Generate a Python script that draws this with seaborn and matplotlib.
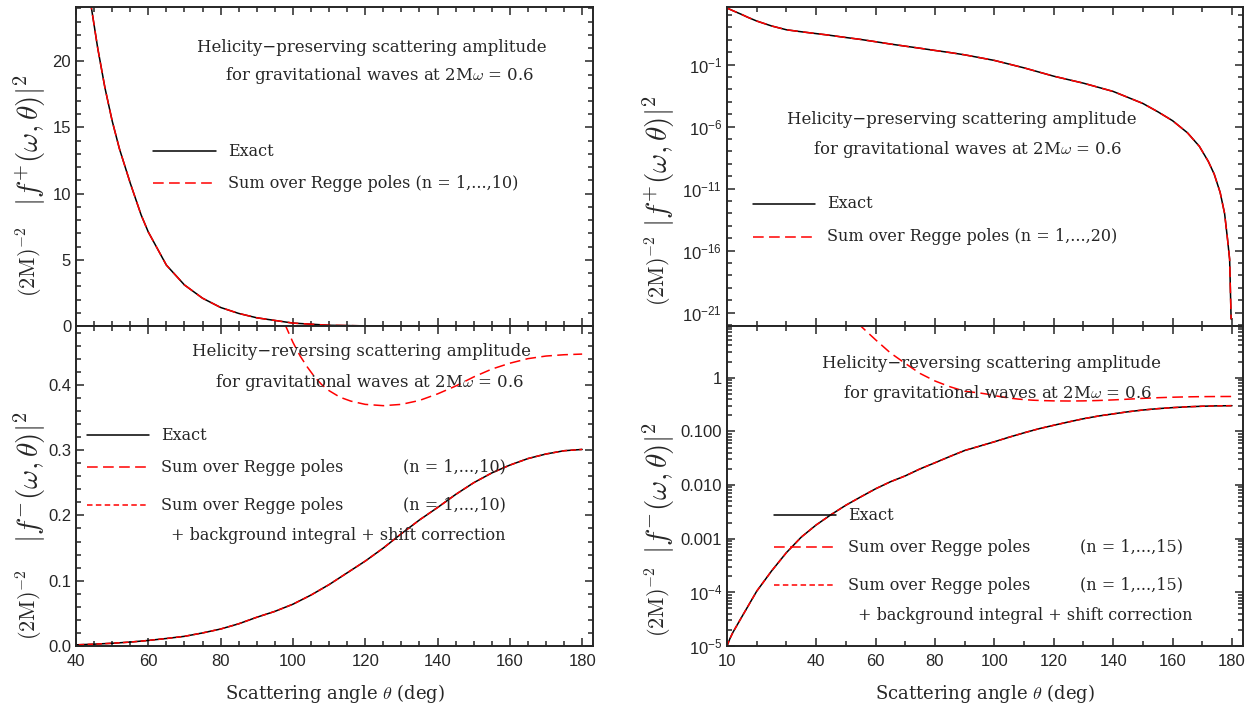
import matplotlib
matplotlib.use("Agg")
import matplotlib.pyplot as plt
import matplotlib.ticker as mticker
from matplotlib.lines import Line2D
import numpy as np
import pandas as pd
import seaborn as sns

# helicity-preserving |f+|^2 (exact and Regge sum coincide on the plot)
theta_plus = [10, 12, 15, 17, 20, 25, 30, 35, 40, 44, 46, 48, 50, 52, 55, 58, 60,
              65, 70, 75, 80, 85, 90, 100, 110, 120, 130, 140, 150, 155, 160,
              165, 169, 172, 174, 176, 177.5, 178.5, 179.2, 179.7]
f_plus = [3.7e3, 2.24e3, 1.1e3, 6.6e2, 3.3e2, 1.32e2, 65, 45, 32, 24.5, 21.0,
          18.0, 15.5, 13.4, 10.8, 8.4, 7.1, 4.6, 3.1, 2.1, 1.4, 0.95, 0.62, 0.22,
          0.055, 1.17e-2, 3.2e-3, 6.9e-4, 7.4e-5, 1.6e-5, 3.0e-6, 3.2e-7, 2.6e-8,
          1.6e-9, 1.5e-10, 5e-12, 1e-13, 8e-16, 2e-17, 3e-22]

# helicity-reversing |f-|^2, exact (Regge sum + background overlays it)
theta_minus = [10, 11, 12, 15, 20, 25, 30, 35, 40, 45, 50, 55, 60, 65, 70, 75,
               80, 85, 90, 95, 100, 105, 110, 115, 120, 125, 130, 135, 140, 145,
               150, 155, 160, 165, 170, 175, 180]
f_minus = [1.0e-5, 1.38e-5, 1.8e-5, 3.5e-5, 1.05e-4, 2.5e-4, 5.5e-4, 1.07e-3,
           1.8e-3, 2.8e-3, 4.2e-3, 6.0e-3, 8.5e-3, 0.0115, 0.0148, 0.020, 0.026,
           0.034, 0.044, 0.053, 0.064, 0.078, 0.094, 0.112, 0.130, 0.150, 0.172,
           0.193, 0.212, 0.232, 0.250, 0.265, 0.277, 0.287, 0.294, 0.299, 0.301]

# Regge-pole sum alone for |f-|^2
theta_regge = [50, 52, 55, 60, 65, 70, 75, 80, 85, 90, 95, 98, 100, 102, 104,
               106, 108, 110, 113, 116, 120, 125, 130, 135, 140, 145, 150, 155,
               160, 165, 170, 175, 180]
f_minus_regge = [16.6, 13.0, 9.2, 5.1, 2.9, 1.85, 1.2, 0.87, 0.68, 0.56, 0.52,
                 0.49, 0.465, 0.444, 0.427, 0.412, 0.400, 0.391, 0.381, 0.375,
                 0.370, 0.368, 0.370, 0.376, 0.386, 0.398, 0.412, 0.424, 0.433,
                 0.440, 0.444, 0.446, 0.447]

W, H = 1253, 709

sns.set_theme(style="ticks")
plt.rcParams["font.family"] = ["Liberation Sans", "DejaVu Sans"]
plt.rcParams["mathtext.fontset"] = "cm"
plt.rcParams["axes.linewidth"] = 1.4

SERIF = ["DejaVu Serif"]
LONG = (0, (7, 3.5))
SHORT = (0, (3.6, 2.2))
RED = "red"

plus_df = pd.DataFrame({"theta": theta_plus, "val": f_plus})
minus_df = pd.DataFrame({"theta": theta_minus, "val": f_minus})
regge_df = pd.DataFrame({"theta": theta_regge, "val": f_minus_regge})

fig = plt.figure(figsize=(W / 100, H / 100), dpi=100)


def px_axes(x0, y0, x1, y1):
    return fig.add_axes([x0 / W, 1 - y1 / H, (x1 - x0) / W, (y1 - y0) / H])


def fx(x):
    return x / W


def fy(y):
    return 1 - y / H


def legend_row(x0, x1, y, label, **kw):
    fig.add_artist(Line2D([fx(x0), fx(x1)], [fy(y), fy(y)],
                          transform=fig.transFigure, lw=1.1, **kw))
    fig.text(fx(x1 + 12), fy(y), label, va="center", ha="left",
             family=SERIF, fontsize=11.5)


def style_ticks(ax):
    ax.tick_params(which="both", direction="in", top=True, right=True,
                   labelsize=12, width=1.1)
    ax.tick_params(which="major", length=6)
    ax.tick_params(which="minor", length=3.5)


def draw(ax, df, kind):
    if kind == "exact":
        sns.lineplot(data=df, x="theta", y="val", ax=ax, color="black",
                     lw=1.1, errorbar=None)
    elif kind == "long":
        sns.lineplot(data=df, x="theta", y="val", ax=ax, color=RED,
                     lw=1.1, linestyle=LONG, errorbar=None)
    else:
        sns.lineplot(data=df, x="theta", y="val", ax=ax, color=RED,
                     lw=1.1, linestyle=SHORT, errorbar=None)


def ylabel(x, y_f, y_m, sign, size):
    # big |f|^2 part and smaller (2M)^-2 prefactor, stacked along the rotated label
    fig.text(fx(x), fy(y_f), r"$|f^{%s}(\omega,\theta)|^{2}$" % sign,
             rotation=90, ha="center", va="center", fontsize=size)
    fig.text(fx(x), fy(y_m), r"$(2\mathrm{M})^{-2}$",
             rotation=90, ha="center", va="center", fontsize=16)


xlab = r"Scattering angle $\theta$ (deg)"
wave = r"for gravitational waves at 2M$\omega$ = 0.6"

# ---- left column (linear) ----
ax_lt = px_axes(76, 7, 593, 326)
ax_lb = px_axes(76, 326, 593, 646)

draw(ax_lt, plus_df, "exact")
draw(ax_lt, plus_df, "long")
ax_lt.set_xlim(40, 183)
ax_lt.set_ylim(0, 24.1)
ax_lt.yaxis.set_major_locator(mticker.MultipleLocator(5))
ax_lt.yaxis.set_minor_locator(mticker.MultipleLocator(1))

draw(ax_lb, minus_df, "exact")
draw(ax_lb, regge_df, "long")
draw(ax_lb, minus_df, "short")
ax_lb.set_xlim(40, 183)
ax_lb.set_ylim(0, 0.49)
ax_lb.yaxis.set_major_locator(mticker.MultipleLocator(0.1))
ax_lb.yaxis.set_minor_locator(mticker.MultipleLocator(0.02))
ax_lb.yaxis.set_major_formatter(mticker.FormatStrFormatter("%.1f"))

for ax in (ax_lt, ax_lb):
    ax.xaxis.set_major_locator(mticker.MultipleLocator(20))
    ax.xaxis.set_minor_locator(mticker.MultipleLocator(5))

# ---- right column (log) ----
ax_rt = px_axes(727, 7, 1243, 326)
ax_rb = px_axes(727, 326, 1243, 646)

draw(ax_rt, plus_df, "exact")
draw(ax_rt, plus_df, "long")
ax_rt.set_yscale("log")
ax_rt.set_ylim(10 ** -22.08, 10 ** 3.65)
ax_rt.yaxis.set_major_locator(mticker.FixedLocator([1e-21, 1e-16, 1e-11, 1e-6, 1e-1]))
ax_rt.yaxis.set_minor_locator(mticker.FixedLocator([10.0 ** k for k in range(-22, 4)]))
ax_rt.yaxis.set_major_formatter(mticker.FuncFormatter(
    lambda v, p: r"$\mathregular{10^{%d}}$" % round(np.log10(v))))
ax_rt.yaxis.set_minor_formatter(mticker.NullFormatter())

draw(ax_rb, minus_df, "exact")
draw(ax_rb, regge_df, "long")
draw(ax_rb, minus_df, "short")
ax_rb.set_yscale("log")
ax_rb.set_ylim(1e-5, 9.2)
ax_rb.yaxis.set_major_locator(mticker.FixedLocator([1e-5, 1e-4, 1e-3, 1e-2, 1e-1, 1]))
ax_rb.yaxis.set_minor_locator(mticker.LogLocator(base=10, subs=np.arange(2, 10)))
rb_labels = {-5: r"$\mathregular{10^{-5}}$", -4: r"$\mathregular{10^{-4}}$",
             -3: "0.001", -2: "0.010", -1: "0.100", 0: "1"}
ax_rb.yaxis.set_major_formatter(mticker.FuncFormatter(
    lambda v, p: rb_labels.get(round(np.log10(v)), "")))
ax_rb.yaxis.set_minor_formatter(mticker.NullFormatter())

for ax in (ax_rt, ax_rb):
    ax.set_xlim(10, 183.7)
    ax.xaxis.set_major_locator(mticker.FixedLocator([10, 40, 60, 80, 100, 120, 140, 160, 180]))
    ax.xaxis.set_minor_locator(mticker.MultipleLocator(10))

for ax in (ax_lt, ax_lb, ax_rt, ax_rb):
    style_ticks(ax)
    ax.set_xlabel("")
    ax.set_ylabel("")
for ax in (ax_lt, ax_rt):
    ax.tick_params(labelbottom=False)

for ax in (ax_lb, ax_rb):
    ax.tick_params(axis="x", which="major", pad=6)
    ax.set_xlabel(xlab, family=SERIF, fontsize=13, labelpad=9)

ylabel(30, 140, 262, "+", 21)
ylabel(30, 477, 605, "-", 21)
ylabel(659, 161, 271, "+", 21)
ylabel(659, 488, 602, "-", 21)

# ---- annotations ----
def title2(x1, y1, x2, y2, first):
    fig.text(fx(x1), fy(y1), first, ha="center", va="center",
             family=SERIF, fontsize=11.9)
    fig.text(fx(x2), fy(y2), wave, ha="center", va="center",
             family=SERIF, fontsize=11.9)


title2(372, 47, 380, 76, "Helicity\u2212preserving scattering amplitude")
title2(362, 352, 370, 382, "Helicity\u2212reversing scattering amplitude")
title2(962, 120, 968, 150, "Helicity\u2212preserving scattering amplitude")
title2(992, 364, 998, 394, "Helicity\u2212reversing scattering amplitude")

legend_row(153, 216, 151, "Exact", color="black")
legend_row(153, 216, 183, "Sum over Regge poles (n = 1,...,10)", color=RED, linestyle=LONG)

legend_row(753, 815, 204, "Exact", color="black")
legend_row(753, 815, 237, "Sum over Regge poles (n = 1,...,20)", color=RED, linestyle=LONG)

legend_row(87, 149, 435, "Exact", color="black")
legend_row(87, 149, 467, "Sum over Regge poles", color=RED, linestyle=LONG)
legend_row(87, 149, 505, "Sum over Regge poles", color=RED, linestyle=SHORT)
for y in (467, 505):
    fig.text(fx(403), fy(y), "(n = 1,...,10)", va="center", family=SERIF, fontsize=11.5)
fig.text(fx(171), fy(535), "+ background integral + shift correction",
         va="center", family=SERIF, fontsize=11.5)

legend_row(774, 836, 515, "Exact", color="black")
legend_row(774, 836, 547, "Sum over Regge poles", color=RED, linestyle=LONG)
legend_row(774, 836, 585, "Sum over Regge poles", color=RED, linestyle=SHORT)
for y in (547, 585):
    fig.text(fx(1080), fy(y), "(n = 1,...,15)", va="center", family=SERIF, fontsize=11.5)
fig.text(fx(858), fy(615), "+ background integral + shift correction",
         va="center", family=SERIF, fontsize=11.5)

fig.savefig("out.png", dpi=100)
